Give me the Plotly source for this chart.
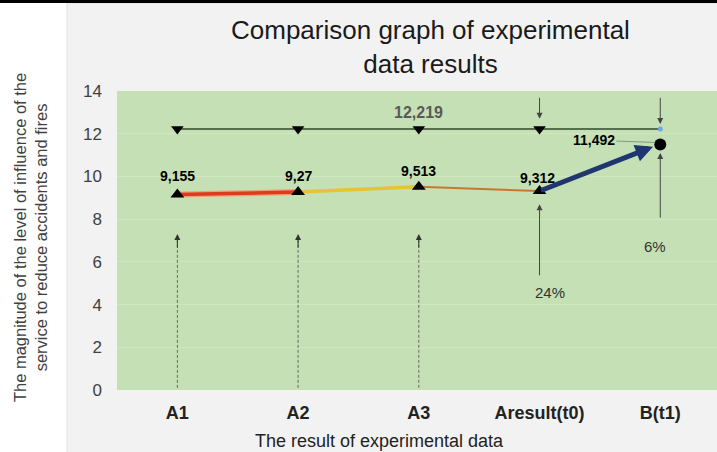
import plotly.graph_objects as go

categories = ["A1", "A2", "A3", "Aresult(t0)", "B(t1)"]
experimental = [9.155, 9.27, 9.513, 9.312, 11.492]
experimental_labels = ["9,155", "9,27", "9,513", "9,312", "11,492"]
target = [12.219, 12.219, 12.219, 12.219, 12.219]
target_label = "12,219"
percent_labels = ["24%", "6%"]
y_ticks = [0, 2, 4, 6, 8, 10, 12, 14]

xs = list(range(len(categories)))
FONT = "Liberation Sans, Arial, sans-serif"

fig = go.Figure()

# upper (target) line
fig.add_trace(go.Scatter(x=xs, y=target, mode="lines", line=dict(color="#2f4a2b", width=1.5),
                         hoverinfo="skip", showlegend=False))
fig.add_trace(go.Scatter(x=xs[:4], y=target[:4], mode="markers",
                         marker=dict(symbol="triangle-down", size=11, color="black"),
                         showlegend=False))
fig.add_trace(go.Scatter(x=xs[4:], y=target[4:], mode="markers",
                         marker=dict(symbol="circle", size=5, color="#6fa8dc"),
                         showlegend=False))

# dashed vertical guides at A1..A3
for i in range(3):
    fig.add_trace(go.Scatter(x=[xs[i], xs[i]], y=[0.1, 7.1], mode="lines",
                             line=dict(color="#666666", width=1, dash="3px,2px"),
                             showlegend=False, hoverinfo="skip"))

# coloured segments of the experimental series
seg_glow = ["#f3a07a", None, None]
seg_colors = ["#dc3b1c", "#e7c233", "#c9772e"]
seg_widths = [3.5, 3.5, 2]
for i in range(3):
    if seg_glow[i]:
        fig.add_trace(go.Scatter(x=[xs[i], xs[i + 1]], y=[experimental[i], experimental[i + 1]],
                                 mode="lines", line=dict(color=seg_glow[i], width=6),
                                 showlegend=False, hoverinfo="skip"))
    fig.add_trace(go.Scatter(x=[xs[i], xs[i + 1]], y=[experimental[i], experimental[i + 1]],
                             mode="lines", line=dict(color=seg_colors[i], width=seg_widths[i]),
                             showlegend=False, hoverinfo="skip"))

annotations = []
# thick navy arrow Aresult -> B
annotations.append(dict(x=xs[4] - 0.06, y=experimental[4] - 0.1, ax=xs[3], ay=experimental[3],
                        xref="x", yref="y", axref="x", ayref="y", text="", showarrow=True,
                        arrowhead=2, arrowsize=0.7, arrowwidth=5, arrowcolor="#1f3670"))

fig.add_trace(go.Scatter(x=xs[:4], y=experimental[:4], mode="markers",
                         marker=dict(symbol="triangle-up", size=12, color="black"),
                         showlegend=False))
fig.add_trace(go.Scatter(x=xs[4:], y=experimental[4:], mode="markers",
                         marker=dict(symbol="circle", size=12, color="black"),
                         showlegend=False))

# value labels
label_pos = [(xs[0], 10.0), (xs[1], 10.0), (xs[2], 10.25), (xs[3] - 0.02, 9.95)]
for (x, y), t in zip(label_pos, experimental_labels[:4]):
    annotations.append(dict(x=x, y=y, text=t, showarrow=False, xref="x", yref="y",
                            font=dict(family=FONT, size=14, color="black", weight="bold")))
annotations.append(dict(x=xs[4] - 0.05, y=experimental[4] + 0.1, ax=xs[4] - 0.55, ay=experimental[4] + 0.2,
                        axref="x", ayref="y", xref="x", yref="y", text=experimental_labels[4],
                        showarrow=True, arrowhead=0, arrowwidth=0.8, arrowcolor="#6a8a6a",
                        font=dict(family=FONT, size=14, color="black", weight="bold")))
annotations.append(dict(x=xs[2], y=13.0, text=target_label, showarrow=False, xref="x", yref="y",
                        font=dict(family=FONT, size=16, color="#595959", weight="bold")))

# arrowheads of dashed guides
for i in range(3):
    annotations.append(dict(x=xs[i], y=7.3, ax=xs[i], ay=6.6, xref="x", yref="y", axref="x", ayref="y",
                            text="", showarrow=True, arrowhead=2, arrowsize=1.2, arrowwidth=1,
                            arrowcolor="#333333"))

# arrows at Aresult and B
annotations.append(dict(x=xs[3], y=8.7, ax=xs[3], ay=5.3, xref="x", yref="y", axref="x", ayref="y",
                        text="", showarrow=True, arrowhead=2, arrowsize=1.2, arrowwidth=1,
                        arrowcolor="#444444"))
annotations.append(dict(x=xs[3], y=12.7, ax=xs[3], ay=13.75, xref="x", yref="y", axref="x", ayref="y",
                        text="", showarrow=True, arrowhead=2, arrowsize=1.2, arrowwidth=1,
                        arrowcolor="#444444"))
annotations.append(dict(x=xs[4], y=12.45, ax=xs[4], ay=13.75, xref="x", yref="y", axref="x", ayref="y",
                        text="", showarrow=True, arrowhead=2, arrowsize=1.2, arrowwidth=1,
                        arrowcolor="#444444"))
annotations.append(dict(x=xs[4], y=11.1, ax=xs[4], ay=8.0, xref="x", yref="y", axref="x", ayref="y",
                        text="", showarrow=True, arrowhead=2, arrowsize=1.2, arrowwidth=1,
                        arrowcolor="#444444"))
annotations.append(dict(x=xs[3] + 0.09, y=4.55, text=percent_labels[0], showarrow=False, xref="x", yref="y",
                        font=dict(family=FONT, size=15, color="#333333")))
annotations.append(dict(x=xs[4] - 0.04, y=6.7, text=percent_labels[1], showarrow=False, xref="x", yref="y",
                        font=dict(family=FONT, size=15, color="#333333")))

# titles
annotations.append(dict(x=0.5217, y=1.147, xref="paper", yref="paper", xanchor="center", yanchor="middle",
                        showarrow=False, text="Comparison graph of experimental<br>data results",
                        font=dict(family=FONT, size=26, color="#1a1a1a")))
annotations.append(dict(x=0.4383, y=-0.171, xref="paper", yref="paper", xanchor="center", yanchor="middle",
                        showarrow=False, text="The result of experimental data",
                        font=dict(family=FONT, size=18, color="#222222")))
annotations.append(dict(x=-0.145, y=0.508, xref="paper", yref="paper", xanchor="center", yanchor="middle",
                        showarrow=False, textangle=-90,
                        text="The magnitude of the level of influence of the<br>service to reduce accidents and fires",
                        font=dict(family=FONT, size=16.5, color="#404040")))

shapes = [
    dict(type="rect", xref="paper", yref="paper", x0=-0.0833, x1=1.01, y0=-0.21, y1=1.294,
         fillcolor="#f2f2f2", line=dict(color="#e0e0e0", width=1), layer="below"),
    dict(type="rect", xref="paper", yref="paper", x0=-0.2, x1=1.01, y0=1.294, y1=1.31,
         fillcolor="black", line=dict(width=0), layer="below"),
    dict(type="rect", xref="paper", yref="paper", x0=0, x1=1.01, y0=0, y1=1,
         fillcolor="#c5e0b4", line=dict(width=0), layer="below"),
]

fig.update_layout(
    width=717, height=452,
    margin=dict(l=117, r=0, t=91, b=62),
    paper_bgcolor="white",
    plot_bgcolor="#c5e0b4",
    font=dict(family=FONT, color="#404040"),
    showlegend=False,
    annotations=annotations,
    shapes=shapes,
    xaxis=dict(range=[-0.5, 4.47], tickmode="array", tickvals=xs, ticktext=categories,
               showgrid=False, zeroline=False, showline=False, ticks="",
               ticklabelstandoff=10,
               tickfont=dict(family=FONT, size=18, color="#222222", weight="bold")),
    yaxis=dict(range=[0, 14], tickmode="array", tickvals=y_ticks, showgrid=True,
               gridcolor="#cfe6c0", gridwidth=1, zeroline=False, showline=False, ticks="",
               ticklabelstandoff=14,
               tickfont=dict(family=FONT, size=17, color="#404040")),
)

fig.write_html("out.html", config={"displayModeBar": False},
               post_script="document.body.style.margin='0';")
